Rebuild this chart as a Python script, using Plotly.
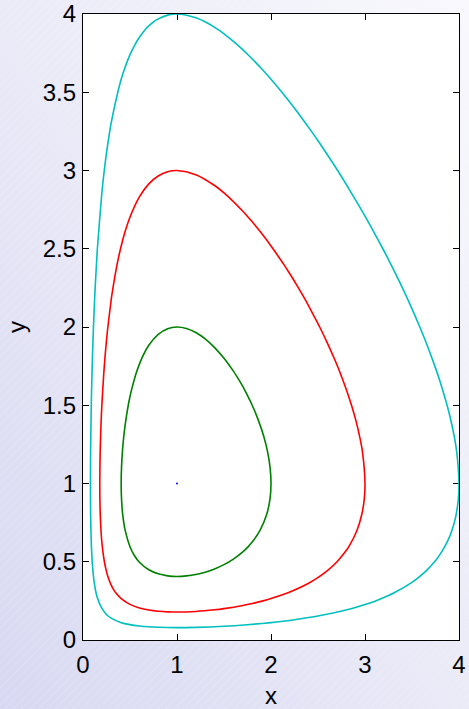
import base64
import plotly.graph_objects as go

# Closed orbits, ordered clockwise from the leftmost point
green_x = [0.406, 0.4096, 0.42, 0.4335, 0.45, 0.4815, 0.5, 0.517, 0.563, 0.6, 0.6255, 0.7, 0.8, 0.9, 1.0, 1.1, 1.2, 1.3, 1.4, 1.5, 1.6,
           1.6605, 1.7, 1.718, 1.8, 1.868, 1.9235, 1.9645, 1.9905, 2.0,
           1.989, 1.953, 1.883, 1.8, 1.763, 1.7, 1.6, 1.5, 1.4, 1.3, 1.2, 1.1, 1.0, 0.9, 0.8, 0.7, 0.6, 0.5432, 0.5, 0.45, 0.4227, 0.41, 0.406]
green_y = [1.0, 1.1, 1.21, 1.3, 1.381, 1.5, 1.556, 1.6, 1.7, 1.763, 1.8, 1.883, 1.953, 1.989, 2.0, 1.9905, 1.9645, 1.9235, 1.868, 1.8005, 1.718,
           1.6605, 1.62, 1.6, 1.5, 1.4, 1.3, 1.2, 1.1, 1.0,
           0.9, 0.8, 0.7, 0.6255, 0.6, 0.563, 0.517, 0.4815, 0.4543, 0.4335, 0.4188, 0.4096, 0.406, 0.41, 0.4227, 0.449, 0.497, 0.5432, 0.596, 0.697, 0.8, 0.9, 1.0]

red_x = [0.1785, 0.1825, 0.193, 0.2006, 0.2206, 0.2332, 0.25, 0.2645, 0.3, 0.306, 0.3627, 0.4, 0.4432, 0.4985, 0.6, 0.7, 0.8, 0.9, 1.0,
         1.2, 1.4, 1.5, 1.7, 1.76, 1.8, 1.8973, 2.0, 2.021, 2.1357, 2.2, 2.271, 2.34, 2.4, 2.5, 2.518, 2.6, 2.672, 2.7, 2.74, 2.8, 2.8565,
         2.904, 2.95, 2.9735, 3.0,
         2.992, 2.965, 2.9145, 2.8314, 2.8, 2.7025, 2.6, 2.502, 2.4, 2.2, 2.174, 2.0, 1.9155, 1.8, 1.7, 1.5, 1.4, 1.2, 1.0,
         0.9, 0.8, 0.7, 0.6, 0.5, 0.4, 0.351, 0.324, 0.3, 0.268, 0.25, 0.2275, 0.2048, 0.2, 0.1914, 0.1837, 0.1797, 0.1785]
red_y = [1.0, 1.2, 1.4, 1.5, 1.7, 1.8, 1.9155, 2.0, 2.174, 2.2, 2.4, 2.502, 2.6, 2.7, 2.8314, 2.9145, 2.965, 2.992, 3.0,
         2.9735, 2.904, 2.8565, 2.74, 2.7, 2.672, 2.6, 2.518, 2.5, 2.4, 2.34, 2.271, 2.2, 2.1357, 2.021, 2.0, 1.8973, 1.8, 1.76, 1.7, 1.6025, 1.5,
         1.4, 1.28, 1.2, 1.0,
         0.9, 0.8, 0.7, 0.6, 0.5715, 0.5, 0.4432, 0.4, 0.3627, 0.306, 0.3, 0.2645, 0.25, 0.2332, 0.2206, 0.2006, 0.193, 0.1825, 0.1785,
         0.1797, 0.1837, 0.1914, 0.2048, 0.2275, 0.268, 0.3, 0.324, 0.351, 0.4, 0.4368, 0.5, 0.6, 0.63, 0.7, 0.8, 0.9, 1.0]

cyan_x = [0.0793, 0.08, 0.0809, 0.0879, 0.09, 0.0977, 0.1, 0.1113, 0.12, 0.1293, 0.15, 0.153, 0.2, 0.2263, 0.25, 0.2842, 0.3, 0.4, 0.442,
          0.5, 0.549, 0.6, 0.6605, 0.7, 0.7502, 0.8, 0.9, 1.0,
          1.2, 1.2995, 1.438, 1.5, 1.649, 1.75, 1.9005, 2.0, 2.116, 2.25, 2.4303, 2.5, 2.709, 2.856, 3.0, 3.19, 3.25, 3.398, 3.5, 3.583,
          3.65, 3.743, 3.8, 3.873, 3.9, 3.95, 3.976, 4.0,
          3.993, 3.969, 3.95, 3.924, 3.9, 3.851, 3.8, 3.74, 3.65, 3.57, 3.5, 3.305, 3.25, 3.113, 3.0, 2.8524, 2.5, 2.25, 2.129, 2.0, 1.7975,
          1.75, 1.5, 1.2, 1.0, 0.9, 0.8, 0.7, 0.6, 0.5, 0.4, 0.3, 0.25, 0.2015, 0.15, 0.12, 0.1, 0.09, 0.0895, 0.0844, 0.0813, 0.0798, 0.0793]
cyan_y = [1.0, 1.13, 1.2, 1.5, 1.561, 1.75, 1.7975, 2.0, 2.129, 2.25, 2.4713, 2.5, 2.8524, 3.0, 3.113, 3.25, 3.305, 3.57, 3.65,
          3.74, 3.8, 3.851, 3.9, 3.924, 3.95, 3.969, 3.993, 4.0,
          3.976, 3.95, 3.9, 3.873, 3.8, 3.743, 3.65, 3.583, 3.5, 3.398, 3.25, 3.19, 3.0, 2.856, 2.709, 2.5, 2.4303, 2.25, 2.116, 2.0,
          1.9005, 1.75, 1.649, 1.5, 1.438, 1.2995, 1.2, 1.0,
          0.9, 0.8, 0.7502, 0.7, 0.6605, 0.6, 0.549, 0.5, 0.442, 0.4, 0.3687, 0.3, 0.2842, 0.25, 0.2263, 0.2, 0.153, 0.1293, 0.12, 0.1113, 0.1,
          0.0977, 0.0879, 0.0809, 0.0793, 0.0798, 0.0813, 0.0844, 0.0895, 0.098, 0.1125, 0.1394, 0.1629, 0.2015, 0.2748, 0.3647, 0.4827, 0.5925, 0.6, 0.7, 0.8, 0.9, 1.0]

center_x = [1.0]
center_y = [1.0]

x_ticks = [0, 1, 2, 3, 4]
y_ticks = [0, 0.5, 1, 1.5, 2, 2.5, 3, 3.5, 4]
y_tick_text = ["0", "0.5", "1", "1.5", "2", "2.5", "3", "3.5", "4"]

W, H = 469, 709
ML, MR, MT, MB = 83, 10, 14, 69
PW, PH = W - ML - MR, H - MT - MB

svg = f'''<svg xmlns="http://www.w3.org/2000/svg" width="{W}" height="{H}" viewBox="0 0 {W} {H}">
<defs>
<linearGradient id="g" x1="0" y1="1" x2="1" y2="0">
<stop offset="0" stop-color="#d8d8f2"/>
<stop offset="0.55" stop-color="#ececf8"/>
<stop offset="1" stop-color="#f8f8fd"/>
</linearGradient>
<pattern id="p" width="6" height="6" patternUnits="userSpaceOnUse" patternTransform="rotate(45)">
<line x1="0" y1="0" x2="0" y2="6" stroke="#ffffff" stroke-width="1.5" stroke-opacity="0.18"/>
</pattern>
</defs>
<rect width="{W}" height="{H}" fill="url(#g)"/>
<rect width="{W}" height="{H}" fill="url(#p)"/>
</svg>'''
bg_uri = "data:image/svg+xml;base64," + base64.b64encode(svg.encode()).decode()

FONT = "Liberation Sans, Arial, sans-serif"
FS = 24

fig = go.Figure()
line_w = 1.6
for xs, ys, col in [(cyan_x, cyan_y, "rgb(0,191,191)"), (red_x, red_y, "rgb(255,0,0)"), (green_x, green_y, "rgb(0,128,0)")]:
    fig.add_trace(go.Scatter(x=xs, y=ys, mode="lines",
                             line=dict(color=col, width=line_w, shape="spline", smoothing=0.8),
                             hoverinfo="skip"))
fig.add_trace(go.Scatter(x=center_x, y=center_y, mode="markers", marker=dict(color="blue", size=2), hoverinfo="skip"))

axis_common = dict(
    showgrid=False, zeroline=False, showline=True, linecolor="black", linewidth=1.2,
    mirror="ticks", ticks="inside", ticklen=6, tickwidth=1, tickcolor="black",
    tickfont=dict(family=FONT, size=FS, color="black"), automargin=False,
    layer="below traces",
)

fig.update_layout(
    width=W, height=H,
    margin=dict(l=ML, r=MR, t=MT, b=MB, autoexpand=False),
    paper_bgcolor="#e6e6f6",
    plot_bgcolor="white",
    showlegend=False,
    xaxis=dict(range=[0, 4], tickvals=x_ticks, ticktext=[str(v) for v in x_ticks], ticklabelstandoff=3,
               title=dict(text="x", font=dict(family=FONT, size=FS, color="black"), standoff=18),
               **axis_common),
    yaxis=dict(range=[0, 4], tickvals=y_ticks, ticktext=y_tick_text, ticklabelstandoff=1,
               title=dict(text="y", font=dict(family=FONT, size=FS, color="black"), standoff=10),
               **axis_common),
    images=[dict(source=bg_uri, xref="paper", yref="paper",
                 x=-ML / PW, y=1 + MT / PH, sizex=W / PW, sizey=H / PH,
                 xanchor="left", yanchor="top", sizing="stretch", layer="below")],
    shapes=[dict(type="rect", xref="paper", yref="paper", x0=0, y0=0, x1=1, y1=1,
                 fillcolor="white", line=dict(width=0), layer="below")],
)

fig.write_html("out.html", config={"displayModeBar": False},
               post_script="document.documentElement.style.margin='0';document.body.style.margin='0';"
                           "document.body.style.overflow='hidden';")
